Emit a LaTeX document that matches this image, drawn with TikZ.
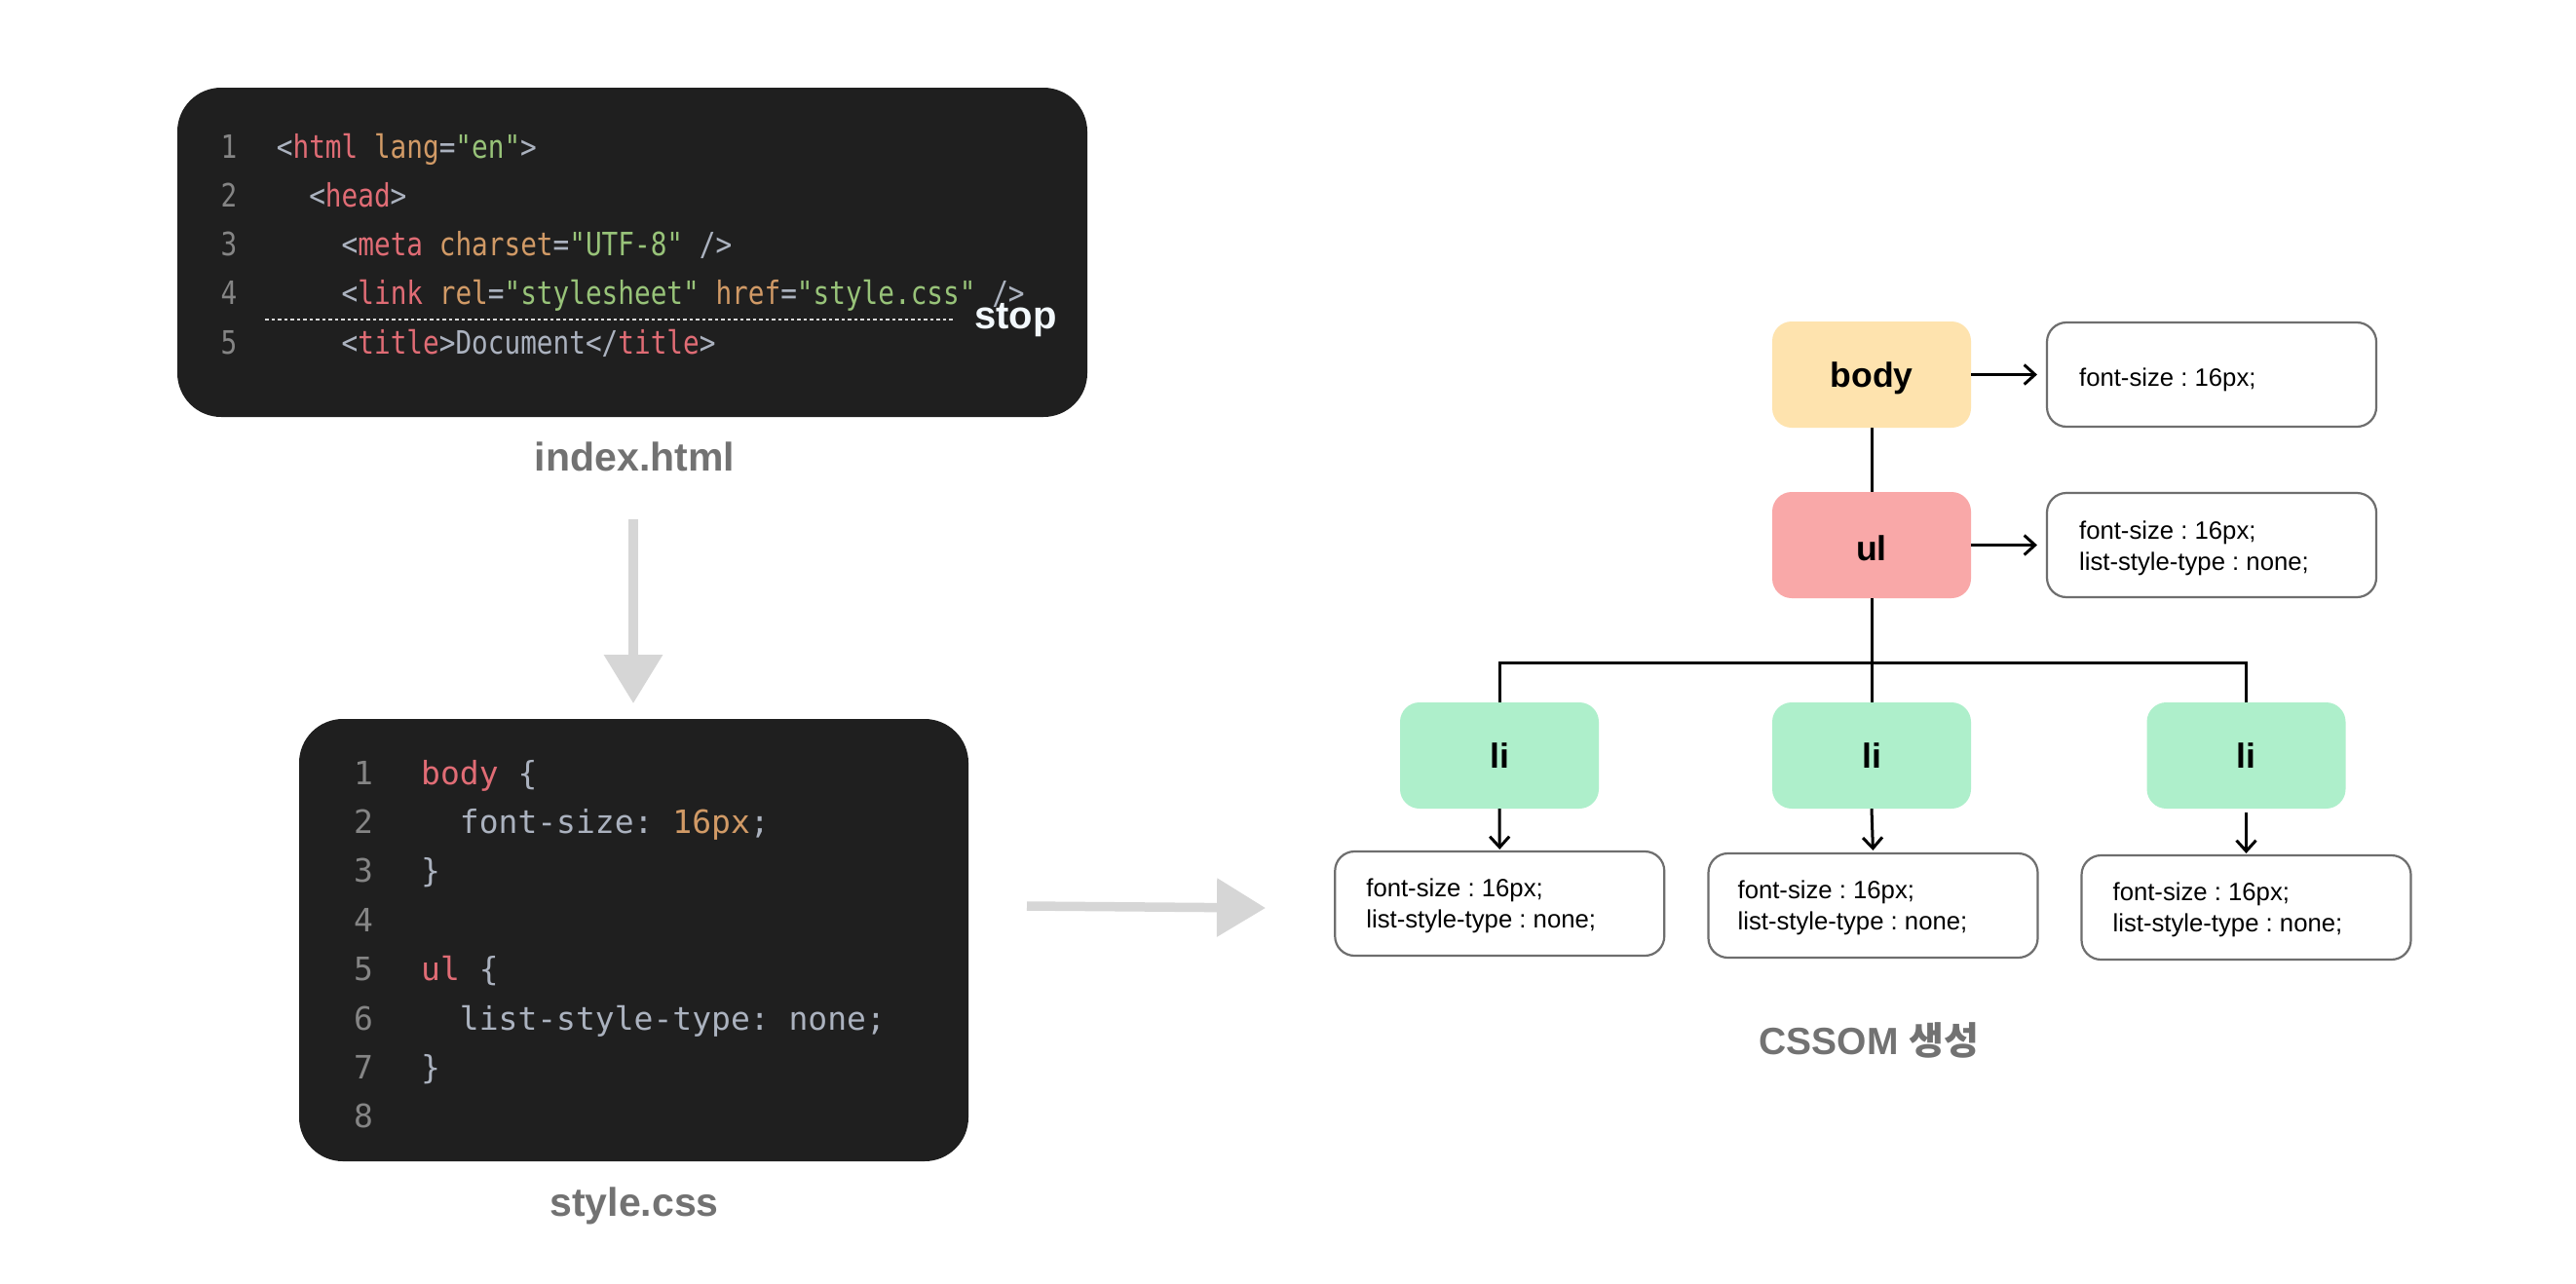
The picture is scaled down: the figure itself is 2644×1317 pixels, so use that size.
\documentclass[tikz,border=0pt]{standalone}
\usepackage{fontspec}
\setmainfont{Liberation Sans}
\newfontfamily\htmlfont{DejaVu Sans Mono}[FakeStretch=0.84,Ligatures=TeXOff]
\newfontfamily\cssfont{DejaVu Sans Mono}[Ligatures=TeXOff]
\newfontfamily\krfont{Noto Sans CJK KR}
\usetikzlibrary{arrows.meta,calc}
\frenchspacing
\definecolor{codebg}{HTML}{1F1F1F}
\definecolor{cpun}{HTML}{ABB2BF}
\definecolor{ctag}{HTML}{E06C75}
\definecolor{cattr}{HTML}{D19A66}
\definecolor{cstr}{HTML}{98C379}
\definecolor{cnum}{HTML}{858585}
\definecolor{lblgray}{HTML}{727272}
\definecolor{arrgray}{HTML}{D6D6D6}
\definecolor{dotgray}{HTML}{D8D8D8}
\definecolor{bodyfill}{HTML}{FEE3AE}
\definecolor{ulfill}{HTML}{F9A8A8}
\definecolor{lifill}{HTML}{AEEFCB}
\definecolor{propborder}{HTML}{6E6E6E}
\definecolor{stopwhite}{HTML}{F2F8FC}
\newcommand{\Cp}[1]{\textcolor{cpun}{#1}}
\newcommand{\Ct}[1]{\textcolor{ctag}{#1}}
\newcommand{\Ca}[1]{\textcolor{cattr}{#1}}
\newcommand{\Cs}[1]{\textcolor{cstr}{#1}}
\begin{document}
\frenchspacing
\begin{tikzpicture}[x=1pt,y=-1pt,
  codebox/.style={fill=codebg, rounded corners=45, inner sep=0},
  hnum/.style={anchor=base, inner sep=0, text=cnum, font=\htmlfont\fontsize{33}{33}\selectfont},
  hcode/.style={anchor=base west, inner sep=0, text=cpun, font=\htmlfont\fontsize{33}{33}\selectfont},
  cnumst/.style={anchor=base, inner sep=0, text=cnum, font=\cssfont\fontsize{33}{33}\selectfont},
  ccode/.style={anchor=base west, inner sep=0, text=cpun, font=\cssfont\fontsize{33}{33}\selectfont},
  lbl/.style={anchor=base, inner sep=0, text=lblgray, font=\bfseries\fontsize{41}{41}\selectfont},
  grayarrow/.style={draw=arrgray, fill=arrgray, line width=10, -{Triangle[length=50pt,width=58pt]}},
  tnode/.style={rounded corners=20, minimum width=204, minimum height=109, inner sep=0,
    font=\bfseries\fontsize{35.6}{36}\selectfont, text height=25, text depth=0},
  pbox/.style={draw=propborder, line width=2.2, rounded corners=20, minimum width=338, minimum height=107, inner sep=0},
  ptext/.style={anchor=base west, inner sep=0, text=black, font=\fontsize{25.7}{30}\selectfont},
  tline/.style={draw=black, line width=3, line join=miter},
  tarrow/.style={draw=black, line width=3, -{Straight Barb[length=11pt,width=20pt,line width=3pt]}}
]
\fill[white] (0,0) rectangle (2644,1317);
\useasboundingbox (0,0) rectangle (2644,1317);

% ---------- index.html code box ----------
\node[codebox, minimum width=934, minimum height=338] (html) at (649,259) {};
\node[hnum] (hn1) at (235,162) {1};
\node[hnum] (hn2) at (235,212.3) {2};
\node[hnum] (hn3) at (235,262.6) {3};
\node[hnum] (hn4) at (235,312.9) {4};
\node[hnum] (hn5) at (235,363.2) {5};
\node[hcode] (hl1) at (283.7,162) {\Cp{<}\Ct{html} \Ca{lang}\Cp{=}\Cs{"en"}\Cp{>}};
\node[hcode] (hl2) at (317.1,212.3) {\Cp{<}\Ct{head}\Cp{>}};
\node[hcode] (hl3) at (350.5,262.6) {\Cp{<}\Ct{meta} \Ca{charset}\Cp{=}\Cs{"UTF-8"} \Cp{/>}};
\node[hcode] (hl4) at (350.5,312.9) {\Cp{<}\Ct{link} \Ca{rel}\Cp{=}\Cs{"stylesheet"} \Ca{href}\Cp{=}\Cs{"style.css"} \Cp{/>}};
\node[hcode] (hl5) at (350.5,363.2) {\Cp{<}\Ct{title}\Cp{>Document</}\Ct{title}\Cp{>}};
\coordinate (dl1) at (272,328);
\coordinate (dl2) at (980,328);
\draw[draw=dotgray, line width=2, dash pattern=on 3.5pt off 3pt] (dl1) -- (dl2);
\node[anchor=base west, inner sep=0, text=stopwhite, font=\bfseries\fontsize{40}{40}\selectfont] (stop) at (1000,337) {stop};
\node[lbl] (idx) at (651.5,483) {index.html};

% ---------- arrow down ----------
\coordinate (va1) at (650,533);
\coordinate (va2) at (650,722);
\draw[grayarrow] (va1) -- (va2);

% ---------- style.css code box ----------
\node[codebox, minimum width=687, minimum height=454] (css) at (650.5,965) {};
\node[cnumst] (cn1) at (373,805) {1};
\node[cnumst] (cn2) at (373,855.4) {2};
\node[cnumst] (cn3) at (373,905.8) {3};
\node[cnumst] (cn4) at (373,956.2) {4};
\node[cnumst] (cn5) at (373,1006.6) {5};
\node[cnumst] (cn6) at (373,1057) {6};
\node[cnumst] (cn7) at (373,1107.4) {7};
\node[cnumst] (cn8) at (373,1157.8) {8};
\node[ccode] (cl1) at (432,805) {\Ct{body} \{};
\node[ccode] (cl2) at (471.7,855.4) {font-size: \Ca{16px};};
\node[ccode] (cl3) at (432,905.8) {\}};
\node[ccode] (cl5) at (432,1006.6) {\Ct{ul} \{};
\node[ccode] (cl6) at (471.7,1057) {list-style-type: none;};
\node[ccode] (cl7) at (432,1107.4) {\}};
\node[lbl] (stylelbl) at (651,1248) {style.css};

% ---------- arrow right ----------
\coordinate (ha1) at (1054,930);
\coordinate (ha2) at (1299,932);
\draw[grayarrow, line width=9.5] (ha1) -- (ha2);

% ---------- CSSOM tree ----------
\node[tnode, fill=bodyfill] (body) at (1921,384.5) {body};
\node[tnode, fill=ulfill, text height=32] (ul) at (1921,559.5) {ul};
\node[tnode, fill=lifill] (li1) at (1539,775.5) {li};
\node[tnode, fill=lifill] (li2) at (1921,775.5) {li};
\node[tnode, fill=lifill] (li3) at (2305.5,775.5) {li};

\node[pbox] (bodyp) at (2270,384.5) {};
\node[pbox] (ulp) at (2270,559.5) {};
\node[pbox] (li1p) at (1539.25,927.5) {};
\node[pbox] (li2p) at (1922.5,929.5) {};
\node[pbox] (li3p) at (2305.5,931.5) {};

\node[ptext] (bodyt) at ($(bodyp.west)+(34,11.5)$) {font-size : 16px;};
\node[ptext] (ult1) at ($(ulp.west)+(34,-6.5)$) {font-size : 16px;};
\node[ptext] (ult2) at ($(ulp.west)+(34,25.5)$) {list-style-type : none;};
\node[ptext] (li1t1) at ($(li1p.west)+(33,-7.5)$) {font-size : 16px;};
\node[ptext] (li1t2) at ($(li1p.west)+(33,24.5)$) {list-style-type : none;};
\node[ptext] (li2t1) at ($(li2p.west)+(31,-7.5)$) {font-size : 16px;};
\node[ptext] (li2t2) at ($(li2p.west)+(31,24.5)$) {list-style-type : none;};
\node[ptext] (li3t1) at ($(li3p.west)+(33,-7.5)$) {font-size : 16px;};
\node[ptext] (li3t2) at ($(li3p.west)+(33,24.5)$) {list-style-type : none;};

\draw[tline] (body.south) -- (ul.north);
\coordinate (bus) at (1921,680.5);
\draw[tline] (ul.south) -- (li2.north);
\draw[tline] (li1.north) |- (bus) -| (li3.north);

\draw[tarrow, shorten >=9] (body.east) -- (bodyp.west);
\draw[tarrow, shorten >=9] (ul.east) -- (ulp.west);
\draw[tarrow, shorten >=1] (li1.south) -- (li1p.north);
\draw[tarrow, shorten >=2] (li2.south) -- (li2p.north);
\draw[tarrow, shorten <=4, shorten >=1] (li3.south) -- (li3p.north);

\node[lbl, font=\bfseries\fontsize{39}{39}\selectfont] (cssom) at (1918.5,1082) {CSSOM {\krfont\bfseries 생성}};
\end{tikzpicture}
\end{document}
